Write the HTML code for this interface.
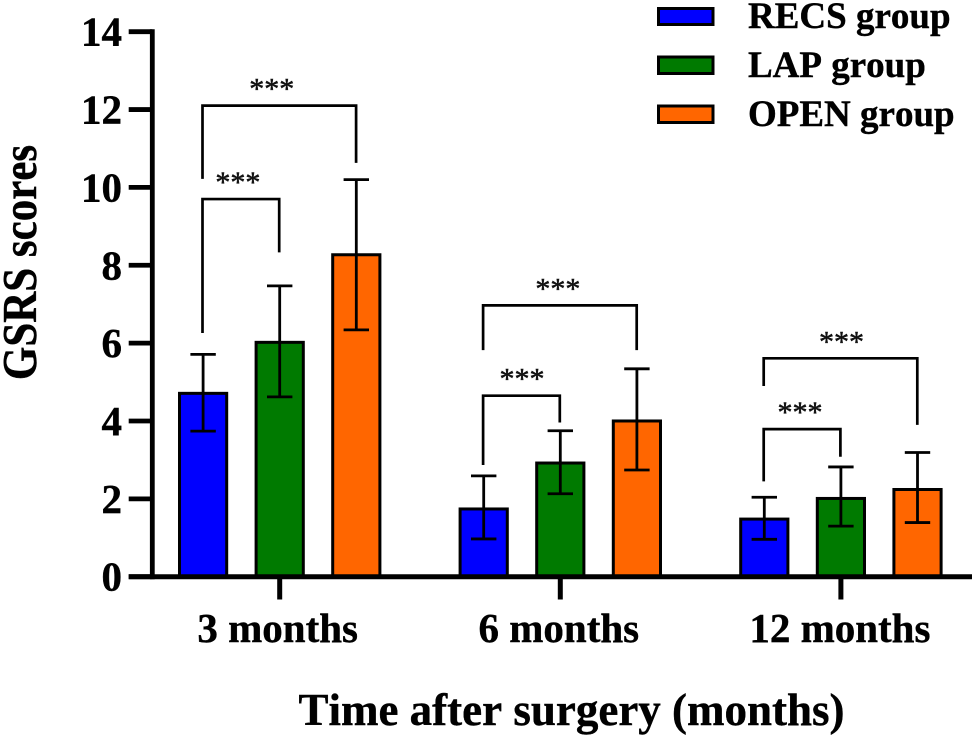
<!DOCTYPE html>
<html lang="en">
<head>
<meta charset="utf-8">
<title>GSRS scores by time after surgery</title>
<style>
html,body{margin:0;padding:0;background:#fff;}
body{width:974px;height:737px;overflow:hidden;}
svg{display:block;filter:blur(0.35px);}
text{font-family:"Liberation Serif",serif;font-weight:bold;fill:#000;stroke:#000;stroke-width:0.4px;font-kerning:none;}
text.stars{font-weight:normal;font-size:30px;fill:#111;stroke:#111;stroke-width:0.5px;}
</style>
</head>
<body>
<svg id="chart" xmlns="http://www.w3.org/2000/svg" width="974" height="737" viewBox="0 0 974 737">
  <text transform="translate(36,262.5) rotate(-90) scale(1,1.14)" text-anchor="middle" font-size="43">GSRS scores</text>
  <text x="571.5" y="725" text-anchor="middle" font-size="45">Time after surgery (months)</text>
  <g>
    <g>
      <rect x="658.5" y="8.5" width="54.5" height="16" fill="#0000ff" stroke="#000" stroke-width="3"/>
      <text x="748" y="28" font-size="37">RECS group</text>
    </g>
    <g>
      <rect x="658.5" y="57" width="54.5" height="16.5" fill="#007a00" stroke="#000" stroke-width="3"/>
      <text x="748" y="77" font-size="37">LAP group</text>
    </g>
    <g>
      <rect x="658.5" y="106" width="54.5" height="16.5" fill="#ff6600" stroke="#000" stroke-width="3"/>
      <text x="748" y="126" font-size="37">OPEN group</text>
    </g>
  </g>
</svg>
<script>
// ---- data ----
const categories = ["3 months", "6 months", "12 months"];
const seriesNames = ["recs", "lap", "open"];
const recsValues = [4.71, 1.74, 1.48];
const lapValues = [6.02, 2.92, 2.01];
const openValues = [8.27, 4.00, 2.24];
const recsErrorHigh = [5.71, 2.59, 2.04];
const recsErrorLow = [3.74, 0.97, 0.96];
const lapErrorHigh = [7.47, 3.75, 2.82];
const lapErrorLow = [4.62, 2.13, 1.30];
const openErrorHigh = [10.20, 5.34, 3.19];
const openErrorLow = [6.34, 2.74, 1.39];
const yTicks = [0, 2, 4, 6, 8, 10, 12, 14];
// significance bracket heights, in score units
const wideBracketLevel = [12.10, 6.97, 5.61];
const wideBracketLeftEnd = [10.22, 5.82, 4.90];
const wideBracketRightEnd = [10.63, 5.82, 3.90];
const narrowBracketLevel = [9.70, 4.65, 3.79];
const narrowBracketLeftEnd = [6.26, 2.87, 2.45];
const narrowBracketRightEnd = [8.33, 3.96, 3.08];
const significanceLabel = "***";

// ---- layout and scales ----
const svg = document.getElementById("chart");
const NS = "http://www.w3.org/2000/svg";
const colors = ["#0000ff", "#007a00", "#ff6600"];
const allValues = [recsValues, lapValues, openValues];
const allHigh = [recsErrorHigh, lapErrorHigh, openErrorHigh];
const allLow = [recsErrorLow, lapErrorLow, openErrorLow];
const wideStarNudge = [-7.5, -2, 1];
const narrowStarNudge = [-3, 0.5, -2];
const labelNudge = [-2, -1.5, -1];

function yScale(v) { return 576.7 - v * 38.93; }
function groupCenter(i) { return 279.7 + i * 280.6; }
function barCenter(i, s) { return groupCenter(i) + (s - 1) * 76.6; }

function make(tag, attrs, parent) {
  const el = document.createElementNS(NS, tag);
  for (const k in attrs) el.setAttribute(k, attrs[k]);
  parent.appendChild(el);
  return el;
}

const barLayer = make("g", {}, svg);



const errorLayer = make("g", {stroke: "#000", "stroke-width": 2.8, fill: "none"}, svg);



const bracketLayer = make("g", {stroke: "#000", "stroke-width": 2.7, fill: "none"}, svg);



const axisLayer = make("g", {stroke: "#000", fill: "none"}, svg);



const labelLayer = make("g", {}, svg);



// bars and error bars
categories.forEach(function (cat, i) {
  seriesNames.forEach(function (name, s) {
    const cx = barCenter(i, s);
    const top = yScale(allValues[s][i]);
    const bar = make("rect", {
      x: cx - 23.6, y: top, width: 47.2, height: yScale(0) - top,
      fill: colors[s], stroke: "#000", "stroke-width": 3
    }, barLayer);
    
    

    const hi = yScale(allHigh[s][i]);
    const lo = yScale(allLow[s][i]);
    const err = make("path", {
      d: "M" + (cx - 12.7) + " " + hi + "H" + (cx + 12.7) +
         "M" + cx + " " + hi + "V" + lo +
         "M" + (cx - 12.7) + " " + lo + "H" + (cx + 12.7)
    }, errorLayer);
    
    
  });

  // brackets
  const left = barCenter(i, 0) - 0.6;
  const mid = barCenter(i, 1) - 0.5;
  const right = barCenter(i, 2) - 0.2;

  const wide = make("path", {
    d: "M" + left + " " + yScale(wideBracketLeftEnd[i]) +
       "V" + yScale(wideBracketLevel[i]) +
       "H" + right +
       "V" + yScale(wideBracketRightEnd[i])
  }, bracketLayer);
  
  

  const narrow = make("path", {
    d: "M" + left + " " + yScale(narrowBracketLeftEnd[i]) +
       "V" + yScale(narrowBracketLevel[i]) +
       "H" + mid +
       "V" + yScale(narrowBracketRightEnd[i])
  }, bracketLayer);
  
  

  const wideStars = make("text", {
    class: "stars", "text-anchor": "middle",
    x: (left + right) / 2 + wideStarNudge[i],
    y: yScale(wideBracketLevel[i]) - 7
  }, svg);
  wideStars.textContent = significanceLabel;
  
  

  const narrowStars = make("text", {
    class: "stars", "text-anchor": "middle",
    x: (left + mid) / 2 + narrowStarNudge[i],
    y: yScale(narrowBracketLevel[i]) - 7
  }, svg);
  narrowStars.textContent = significanceLabel;
  
  

  // x tick and label
  const xt = make("line", {
    x1: groupCenter(i), x2: groupCenter(i), y1: yScale(0), y2: 599.5, "stroke-width": 5
  }, axisLayer);
  
  

  const xl = make("text", {
    x: groupCenter(i) + labelNudge[i], y: 642, "text-anchor": "middle", "font-size": 41
  }, labelLayer);
  xl.textContent = cat;
  
  
});

// axes
const yAxis = make("line", {
  x1: 152.3, x2: 152.3, y1: yScale(14) - 2.4, y2: yScale(0) + 2.5, "stroke-width": 4.8
}, axisLayer);



const xAxis = make("line", {
  x1: 128.7, x2: 972, y1: yScale(0), y2: yScale(0), "stroke-width": 5
}, axisLayer);



yTicks.forEach(function (t) {
  const tick = make("line", {
    x1: 128.7, x2: 152.3, y1: yScale(t), y2: yScale(t), "stroke-width": 4.8
  }, axisLayer);
  
  

  const label = make("text", {
    x: 122, y: yScale(t) + 14, "text-anchor": "end", "font-size": 41
  }, labelLayer);
  label.textContent = String(t);
  
  
});
</script>
</body>
</html>
